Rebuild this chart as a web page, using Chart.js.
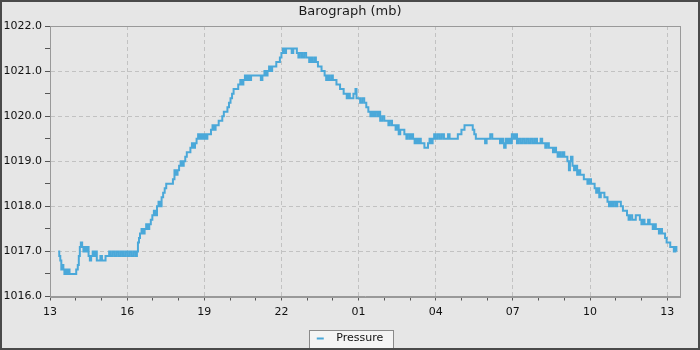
<!DOCTYPE html>
<html>
<head>
<meta charset="utf-8">
<script src="https://cdn.jsdelivr.net/npm/chart.js@4/dist/chart.umd.min.js"></script>
<style>
  html, body { margin: 0; padding: 0; background: #e6e6e6; }
  canvas { display: block; }
</style>
</head>
<body>
<canvas id="baro" width="700" height="350"></canvas>
<script>
// hours after 13:00 on the first day, and pressure in mb
const hours = [
  0.32,0.36,0.40,0.44,0.48,0.52,0.56,0.60,0.64,0.70,0.76,0.85,0.95,1.02,1.08,1.12,1.16,1.20,1.25,1.30,
  1.35,1.40,1.45,1.50,1.55,1.60,1.66,1.72,1.78,1.82,1.90,1.96,2.02,2.10,2.16,2.24,2.30,2.36,2.44,2.52,
  2.60,2.68,2.76,2.84,2.92,3.00,3.08,3.16,3.24,3.32,3.38,3.42,3.46,3.50,3.56,3.62,3.68,3.74,3.80,3.86,
  3.92,3.98,4.04,4.10,4.16,4.22,4.28,4.34,4.40,4.46,4.52,4.62,4.72,4.78,4.84,4.90,4.96,5.02,5.08,5.14,
  5.20,5.26,5.32,5.40,5.46,5.52,5.58,5.64,5.70,5.76,5.82,5.88,5.94,6.00,6.06,6.12,6.20,6.26,6.32,6.38,
  6.44,6.50,6.56,6.64,6.70,6.76,6.84,6.90,6.96,7.02,7.08,7.14,7.24,7.32,7.40,7.46,7.52,7.58,7.64,7.70,
  7.76,7.82,7.92,8.02,8.12,8.20,8.26,8.34,8.40,8.46,8.52,8.58,8.64,8.72,8.80,8.88,8.94,9.00,9.06,9.12,
  9.18,9.26,9.34,9.40,9.46,9.54,9.60,9.66,9.72,9.80,9.88,9.96,10.02,10.08,10.14,10.20,10.28,10.34,10.42,10.50,
  10.56,10.62,10.68,10.74,10.80,10.86,10.94,11.00,11.08,11.14,11.22,11.28,11.36,11.42,11.48,11.54,11.60,11.66,11.72,11.80,
  11.88,11.92,12.00,12.06,12.14,12.22,12.30,12.38,12.46,12.52,12.58,12.64,12.72,12.78,12.84,12.92,13.00,13.08,13.16,13.22,
  13.30,13.38,13.44,13.50,13.56,13.62,13.70,13.78,13.86,13.92,14.00,14.06,14.12,14.18,14.24,14.30,14.36,14.42,14.50,14.56,
  14.64,14.70,14.76,14.82,14.88,14.94,15.00,15.08,15.16,15.24,15.32,15.40,15.48,15.54,15.62,15.70,15.78,15.86,15.94,16.00,
  16.06,16.12,16.20,16.28,16.36,16.44,16.50,16.56,16.66,16.76,16.86,16.92,16.98,17.06,17.12,17.20,17.30,17.40,17.50,17.56,
  17.62,17.66,17.72,17.78,17.84,17.90,17.96,18.04,18.10,18.16,18.22,18.30,18.38,18.46,18.54,18.62,18.70,18.78,18.86,18.94,
  19.02,19.08,19.14,19.20,19.26,19.32,19.40,19.48,19.56,19.62,19.68,19.74,19.80,19.86,19.94,20.00,20.06,20.12,20.18,20.22,
  20.26,20.32,20.38,20.44,20.50,20.56,20.62,20.70,20.76,20.84,20.90,20.96,21.04,21.10,21.18,21.24,21.30,21.36,21.42,21.50,
  21.56,21.62,21.68,21.74,21.80,21.86,21.92,22.00,22.06,22.14,22.20,22.28,22.36,22.44,22.50,22.56,22.64,22.72,22.78,22.86,
  22.94,23.00,23.06,23.12,23.20,23.26,23.32,23.38,23.44,23.50,23.56,23.62,23.68,23.74,23.80,23.86,23.92,23.98,24.06,24.12,
  24.20,24.26,24.32,24.36
];
const pressure = [
  1017.0,1016.9,1016.8,1016.6,1016.7,1016.6,1016.5,1016.6,1016.5,1016.6,1016.5,1016.5,1016.5,1016.6,1016.7,1016.9,1017.1,1017.2,1017.1,1017.0,
  1017.1,1017.0,1017.1,1016.9,1016.8,1016.9,1017.0,1016.9,1017.0,1016.8,1016.8,1016.9,1016.8,1016.8,1016.9,1016.9,1017.0,1016.9,1017.0,1016.9,
  1017.0,1016.9,1017.0,1016.9,1017.0,1016.9,1017.0,1016.9,1017.0,1016.9,1017.0,1017.2,1017.3,1017.4,1017.5,1017.4,1017.5,1017.6,1017.5,1017.6,
  1017.7,1017.8,1017.9,1017.8,1018.0,1018.1,1018.0,1018.2,1018.3,1018.4,1018.5,1018.5,1018.5,1018.6,1018.8,1018.7,1018.8,1018.9,1019.0,1018.9,
  1019.0,1019.1,1019.2,1019.2,1019.3,1019.4,1019.3,1019.4,1019.5,1019.6,1019.5,1019.6,1019.5,1019.6,1019.5,1019.6,1019.6,1019.7,1019.8,1019.7,
  1019.8,1019.8,1019.9,1019.9,1020.0,1020.1,1020.1,1020.2,1020.3,1020.4,1020.5,1020.6,1020.6,1020.7,1020.8,1020.7,1020.8,1020.9,1020.8,1020.9,
  1020.8,1020.9,1020.9,1020.9,1020.9,1020.8,1020.9,1021.0,1020.9,1021.0,1021.1,1021.0,1021.1,1021.1,1021.2,1021.2,1021.3,1021.4,1021.5,1021.4,
  1021.5,1021.5,1021.5,1021.4,1021.5,1021.5,1021.4,1021.3,1021.4,1021.3,1021.4,1021.3,1021.3,1021.2,1021.3,1021.2,1021.3,1021.2,1021.1,1021.1,
  1021.0,1021.0,1020.9,1020.8,1020.9,1020.8,1020.9,1020.8,1020.8,1020.7,1020.7,1020.6,1020.6,1020.5,1020.5,1020.4,1020.5,1020.4,1020.4,1020.5,
  1020.6,1020.4,1020.4,1020.3,1020.4,1020.3,1020.2,1020.1,1020.0,1020.1,1020.0,1020.1,1020.0,1020.1,1019.9,1020.0,1019.9,1019.9,1019.8,1019.9,
  1019.8,1019.8,1019.7,1019.8,1019.6,1019.7,1019.7,1019.6,1019.5,1019.6,1019.5,1019.6,1019.5,1019.4,1019.5,1019.4,1019.5,1019.4,1019.4,1019.3,
  1019.3,1019.4,1019.5,1019.4,1019.5,1019.6,1019.5,1019.6,1019.5,1019.6,1019.5,1019.5,1019.6,1019.5,1019.5,1019.5,1019.5,1019.6,1019.6,1019.7,
  1019.7,1019.8,1019.8,1019.8,1019.8,1019.7,1019.6,1019.5,1019.5,1019.5,1019.5,1019.4,1019.5,1019.5,1019.6,1019.5,1019.5,1019.5,1019.4,1019.5,
  1019.4,1019.3,1019.5,1019.4,1019.5,1019.4,1019.6,1019.5,1019.6,1019.4,1019.5,1019.4,1019.5,1019.4,1019.5,1019.4,1019.5,1019.4,1019.5,1019.4,
  1019.4,1019.5,1019.4,1019.4,1019.3,1019.4,1019.3,1019.3,1019.2,1019.3,1019.2,1019.1,1019.2,1019.1,1019.2,1019.1,1019.1,1019.0,1018.8,1019.0,
  1019.1,1018.9,1018.8,1018.9,1018.7,1018.8,1018.7,1018.7,1018.6,1018.6,1018.5,1018.6,1018.5,1018.5,1018.4,1018.3,1018.4,1018.2,1018.3,1018.3,
  1018.2,1018.2,1018.1,1018.0,1018.1,1018.0,1018.1,1018.0,1018.1,1018.1,1018.0,1017.9,1017.9,1017.8,1017.7,1017.8,1017.7,1017.7,1017.8,1017.8,
  1017.7,1017.6,1017.7,1017.6,1017.6,1017.7,1017.6,1017.6,1017.5,1017.6,1017.5,1017.5,1017.4,1017.5,1017.4,1017.4,1017.3,1017.2,1017.2,1017.1,
  1017.1,1017.0,1017.1,1017.0
];
const startHour = 13;
const seriesLabel = 'Pressure';
const chartTitle = 'Barograph (mb)';

const FONT = "'DejaVu Sans', sans-serif";
const LINE = '#4aa8d9';

// page background, outer frame, plot frame and the box round the legend
const framePlugin = {
  id: 'frames',
  beforeDraw(chart) {
    const ctx = chart.ctx;
    ctx.save();
    ctx.fillStyle = '#e6e6e6';
    ctx.fillRect(0, 0, chart.width, chart.height);
    const hb = chart.legend && chart.legend.legendHitBoxes && chart.legend.legendHitBoxes[0];
    if (hb) {
      const l = Math.round(hb.left) - 7.5, t = Math.round(hb.top) - 2.5;
      const w = Math.round(hb.width) + 18, h = chart.height - t;
      ctx.fillStyle = '#f4f4f4';
      ctx.fillRect(l, t, w, h);
      ctx.strokeStyle = '#8a8a8a';
      ctx.lineWidth = 1;
      ctx.strokeRect(l, t, w, h);
    }
    ctx.restore();
  },
  afterDraw(chart) {
    const ctx = chart.ctx, a = chart.chartArea;
    ctx.save();
    ctx.strokeStyle = '#999999';
    ctx.lineWidth = 1;
    ctx.strokeRect(Math.round(a.left) + 0.5, Math.round(a.top) + 0.5,
                   Math.round(a.right - a.left), Math.round(a.bottom - a.top));
    ctx.strokeStyle = '#4a4a4a';
    ctx.lineWidth = 2;
    ctx.strokeRect(1, 1, chart.width - 2, chart.height - 2);
    ctx.restore();
  }
};

const points = hours.map((h, i) => ({ x: h, y: pressure[i] }));

new Chart(document.getElementById('baro'), {
  type: 'line',
  data: {
    datasets: [{
      label: seriesLabel,
      data: points,
      borderColor: LINE,
      backgroundColor: LINE,
      borderWidth: 2,
      pointRadius: 0,
      stepped: true,
      fill: false
    }]
  },
  options: {
    responsive: false,
    animation: false,
    devicePixelRatio: 1,
    layout: { padding: { top: 0, left: 0, right: 0, bottom: -4 } },
    scales: {
      x: {
        type: 'linear',
        min: 0,
        max: 24.5,
        afterFit: s => { s.height = 34.5; },
        ticks: {
          stepSize: 1,
          includeBounds: false,
          autoSkip: false,
          maxRotation: 0,
          padding: 5,
          color: '#111',
          font: { family: FONT, size: 11 },
          callback: v => (v % 3 === 0 ? String((startHour + v) % 24).padStart(2, '0') : '')
        },
        grid: {
          color: c => (c.tick && c.tick.value % 3 === 0 ? '#c2c2c2' : 'rgba(0,0,0,0)'),
          tickColor: '#555',
          tickLength: 4
        },
        border: { color: '#999999', dash: [4, 3] }
      },
      y: {
        min: 1016,
        max: 1022,
        afterFit: s => { s.width = 50; },
        ticks: {
          stepSize: 0.5,
          padding: 3,
          color: '#111',
          font: { family: FONT, size: 11 },
          callback: v => (Number.isInteger(v) ? v.toFixed(1) : '')
        },
        grid: {
          color: c => (c.tick && Number.isInteger(c.tick.value) ? '#c2c2c2' : 'rgba(0,0,0,0)'),
          tickColor: '#555',
          tickLength: 5
        },
        border: { color: '#999999', dash: [4, 3] }
      },
      // empty strip on the right so the plot stops short of the edge
      gap: {
        position: 'right',
        afterFit: s => { s.width = 20; },
        ticks: { display: false },
        grid: { display: false },
        border: { display: false }
      }
    },
    plugins: {
      title: {
        display: true,
        text: chartTitle,
        color: '#1a1a1a',
        font: { family: FONT, size: 13, weight: 'normal' },
        padding: { top: 4, bottom: 6.4 }
      },
      legend: {
        display: true,
        position: 'bottom',
        labels: {
          usePointStyle: true,
          pointStyle: 'line',
          pointStyleWidth: 7,
          color: '#111',
          padding: 2,
          font: { family: FONT, size: 11 },
          generateLabels: chart => Chart.defaults.plugins.legend.labels.generateLabels(chart)
            .map(item => Object.assign(item, { text: '  ' + item.text }))
        }
      },
      tooltip: { enabled: false }
    }
  },
  plugins: [framePlugin]
});
</script>
</body>
</html>
